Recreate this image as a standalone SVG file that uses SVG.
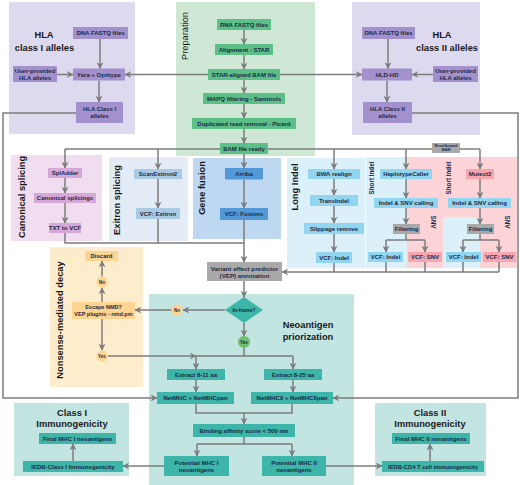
<svg xmlns="http://www.w3.org/2000/svg" width="520" height="485" viewBox="0 0 520 485">
<style>
text{font-family:"Liberation Sans",Arial,sans-serif;font-weight:bold;text-anchor:middle;dominant-baseline:central;fill:#1b2a47}
.t{font-size:6px}
.s{font-size:5.5px}
.ttl{font-size:9.3px;fill:#1a1a1a}
.c{stroke:#7c7c7c;stroke-width:1.5;fill:none}
.a{stroke:#7c7c7c;stroke-width:1.5;fill:none;marker-end:url(#ah)}
.hla{fill:#a291cc}.prep{fill:#5dbf88}.can{fill:#d5a9d7}.exi{fill:#aac9e4}.gf{fill:#5399d8}
.li{fill:#92d5f0}.pk{fill:#f7a6b0}.gr{fill:#a9a9a9}.nmd{fill:#fdd491}.neo{fill:#3db5a8}
</style>
<defs>
<marker id="ah" viewBox="0 0 10 10" refX="9" refY="5" markerWidth="7" markerHeight="7" orient="auto" markerUnits="userSpaceOnUse">
<path d="M0,0 L10,5 L0,10 L3,5 z" fill="#7c7c7c"/>
</marker>
</defs>

<g id="panels">
<rect x="9" y="2" width="126" height="132" fill="#ddd9ee"/>
<rect x="176" y="2" width="139" height="154" fill="#cfe8d6"/>
<rect x="352" y="2" width="128" height="133" fill="#ddd9ee"/>
<rect x="11" y="155" width="91" height="86" fill="#f1ddf0"/>
<rect x="109" y="157" width="79" height="84" fill="#e3ecf6"/>
<rect x="193" y="158" width="88" height="81" fill="#bed8f1"/>
<rect x="287" y="158" width="78" height="110" fill="#dcf0fa"/>
<rect x="366" y="157" width="41" height="111" fill="#dcf0fa"/>
<rect x="407" y="157" width="110" height="111" fill="#fcd3d7"/>
<rect x="443" y="217" width="37" height="51" fill="#dcf0fa"/>
<rect x="50" y="247" width="93" height="140" fill="#fdedcc"/>
<rect x="149" y="294" width="205" height="191" fill="#c3e5e2"/>
<rect x="14" y="403" width="115" height="73" fill="#c3e5e2"/>
<rect x="375" y="403" width="111" height="73" fill="#c3e5e2"/>
<text class="ttl" x="44" y="35">HLA</text>
<text class="ttl" x="44.5" y="48">class I alleles</text>
<text class="ttl" x="442" y="35">HLA</text>
<text class="ttl" x="447" y="48">class II alleles</text>
<text class="ttl" style="font-weight:normal" transform="translate(185,36) rotate(-90)">Preparation</text>
<text class="ttl" transform="translate(22,197) rotate(-90)">Canonical splicing</text>
<text class="ttl" transform="translate(117,200) rotate(-90)">Exitron splicing</text>
<text class="ttl" transform="translate(202,188) rotate(-90)">Gene fusion</text>
<text class="ttl" transform="translate(295,187) rotate(-90)">Long Indel</text>
<text class="t" style="font-size:6.3px" transform="translate(371,178) rotate(-90)">Short Indel</text>
<text class="t" style="font-size:6.3px" transform="translate(448,178) rotate(-90)">Short Indel</text>
<text class="t" style="font-size:6.3px" transform="translate(433,222) rotate(90)">SNV</text>
<text class="t" style="font-size:6.3px" transform="translate(507,222) rotate(90)">SNV</text>
<text class="ttl" transform="translate(60,320) rotate(-90)">Nonsense-mediated decay</text>
<text class="ttl" x="308" y="325">Neoantigen</text>
<text class="ttl" x="308" y="337">priorization</text>
<text class="ttl" x="72" y="413">Class I</text>
<text class="ttl" x="72" y="424">Immunogenicity</text>
<text class="ttl" x="430" y="413">Class II</text>
<text class="ttl" x="430" y="424">Immunogenicity</text>
</g>

<g id="connectors">
<path class="a" d="M100,39 V68.5"/>
<path class="a" d="M57,74.5 H73"/>
<path class="a" d="M99,80.5 V102"/>
<path class="a" d="M208,74.5 H125"/>
<path class="a" d="M280,74.5 H362"/>
<path class="a" d="M388,39 V68.5"/>
<path class="a" d="M433,74.5 H412"/>
<path class="a" d="M387,80.5 V102"/>
<path class="a" d="M76,113 H3 V398 H157"/>
<path class="a" d="M412,113 H518 V398 H333"/>
<path class="a" d="M244,30 V44"/>
<path class="a" d="M244,55 V69"/>
<path class="a" d="M244,80 V93"/>
<path class="a" d="M244,104 V118"/>
<path class="a" d="M244,129 V143"/>
<path class="c" d="M65,149 H480"/>
<path class="a" d="M65,149 V168"/>
<path class="a" d="M158,149 V169"/>
<path class="a" d="M244,154 V168"/>
<path class="a" d="M334,149 V169"/>
<path class="a" d="M406,149 V169"/>
<path class="a" d="M480,149 V169"/>
<path class="a" d="M65,178 V193"/>
<path class="a" d="M65,203 V223"/>
<path class="a" d="M158,179 V208"/>
<path class="a" d="M244,179.5 V208"/>
<path class="c" d="M65,233 V243 H244"/>
<path class="c" d="M158,219 V243"/>
<path class="a" d="M244,220 V262"/>
<path class="a" d="M334,179 V195"/>
<path class="a" d="M334,206 V223"/>
<path class="a" d="M334,234 V252"/>
<path class="a" d="M406,179 V198"/>
<path class="a" d="M406,208 V224"/>
<path class="c" d="M406,234 V240 M386,240 H425 M480,234 V240 M463,240 H499"/>
<path class="a" d="M386,240 V252"/>
<path class="a" d="M425,240 V252"/>
<path class="a" d="M463,240 V252"/>
<path class="a" d="M499,240 V252"/>
<path class="a" d="M480,179 V198"/>
<path class="a" d="M480,208 V224"/>
<path class="c" d="M334,263 V272 M386,262 V272 M425,262 V272 M463,262 V272 M499,262 V272"/>
<path class="a" d="M499,272 H282"/>
<path class="a" d="M244,281 V297"/>
<path class="a" d="M225,310 H183"/>
<path class="a" d="M171.5,310 H135"/>
<path class="a" d="M244,323 V336"/>
<path class="c" d="M244,348 V356 M196,356 H293"/>
<path class="a" d="M108,356 H196"/>
<path class="a" d="M196,356 V369"/>
<path class="a" d="M293,356 V369"/>
<path class="a" d="M196,380 V392"/>
<path class="a" d="M293,380 V392"/>
<path class="c" d="M196,404 V413 H292 V404"/>
<path class="a" d="M244,413 V424"/>
<path class="c" d="M244,437 V444 M197,444 H292"/>
<path class="a" d="M197,444 V456"/>
<path class="a" d="M292,444 V456"/>
<path class="a" d="M164,466 H123"/>
<path class="a" d="M326,466 H382"/>
<path class="a" d="M73,461 V444"/>
<path class="a" d="M430,461 V444"/>
<path class="a" d="M102,302 V288"/>
<path class="a" d="M102,276.5 V261"/>
<path class="a" d="M102,319 V350"/>
</g>

<g id="n-dna1"><rect class="hla" x="73" y="27" width="55" height="12"/><text class="t" x="100.5" y="33">DNA FASTQ files</text></g>
<g id="n-user1"><rect class="hla" x="13" y="66" width="44" height="16"/><text class="t" x="35" y="71">User-provided</text><text class="t" x="35" y="77.5">HLA alleles</text></g>
<g id="n-yara"><rect class="hla" x="73" y="68.5" width="52" height="12"/><text class="t" x="99" y="74.5">Yara + Optitype</text></g>
<g id="n-hla1"><rect class="hla" x="76" y="102" width="47" height="21"/><text class="t" x="99.5" y="109">HLA Class I</text><text class="t" x="99.5" y="116">alleles</text></g>

<g id="n-dna2"><rect class="hla" x="362" y="27" width="53" height="12"/><text class="t" x="388.5" y="33">DNA FASTQ files</text></g>
<g id="n-hldhd"><rect class="hla" x="362" y="68.5" width="50" height="12"/><text class="t" x="387" y="74.5">HLD-HD</text></g>
<g id="n-user2"><rect class="hla" x="433" y="66" width="45" height="16"/><text class="t" x="455.5" y="71">User-provided</text><text class="t" x="455.5" y="77.5">HLA alleles</text></g>
<g id="n-hla2"><rect class="hla" x="363" y="102" width="49" height="21"/><text class="t" x="387.5" y="109">HLA Class II</text><text class="t" x="387.5" y="116">alleles</text></g>

<g id="n-rna"><rect class="prep" x="217" y="19" width="54" height="11"/><text class="t" x="244" y="24.5">RNA FASTQ files</text></g>
<g id="n-align"><rect class="prep" x="215" y="44" width="58" height="11"/><text class="t" x="244" y="49.5">Alignment - STAR</text></g>
<g id="n-star"><rect class="prep" x="208" y="69" width="72" height="11"/><text class="t" x="244" y="74.5">STAR-aligned BAM file</text></g>
<g id="n-mapq"><rect class="prep" x="203" y="93" width="82" height="11"/><text class="t" x="244" y="98.5">MAPQ filtering - Samtools</text></g>
<g id="n-dup"><rect class="prep" x="192" y="118" width="104" height="11"/><text class="t" x="244" y="123.5">Duplicated read removal - Picard</text></g>
<g id="n-bam"><rect class="prep" x="220" y="143" width="48" height="11"/><text class="t" x="244" y="148.5">BAM file ready</text></g>

<g id="n-spladder"><rect class="can" x="48" y="168" width="34" height="10"/><text class="t" x="65" y="173">SplAdder</text></g>
<g id="n-cansp"><rect class="can" x="34" y="193" width="62" height="10"/><text class="t" x="65" y="198">Canonical splicings</text></g>
<g id="n-txt"><rect class="can" x="49" y="223" width="32" height="10"/><text class="t" x="65" y="228">TXT to VCF</text></g>

<g id="n-scanex"><rect class="exi" x="134" y="169" width="48" height="10"/><text class="t" x="158" y="174">ScanExitron2</text></g>
<g id="n-vcfex"><rect class="exi" x="136" y="208" width="44" height="11"/><text class="t" x="158" y="213.5">VCF: Exitron</text></g>

<g id="n-arriba"><rect class="gf" x="225" y="168" width="38" height="11.5"/><text class="t" x="244" y="173.8">Arriba</text></g>
<g id="n-vcffus"><rect class="gf" x="220" y="208" width="48" height="12"/><text class="t" x="244" y="214">VCF: Fusions</text></g>

<g id="n-bwa"><rect class="li" x="308" y="169" width="52" height="10"/><text class="t" x="334" y="174">BWA realign</text></g>
<g id="n-transindel"><rect class="li" x="310" y="195" width="48" height="11"/><text class="t" x="334" y="200.5">TransIndel</text></g>
<g id="n-slip"><rect class="li" x="304" y="223" width="60" height="11"/><text class="t" x="334" y="228.5">Slippage remove</text></g>
<g id="n-vcfli"><rect class="li" x="316" y="252" width="36" height="11"/><text class="t" x="334" y="257.5">VCF: Indel</text></g>

<g id="n-recal"><rect class="gr" x="432" y="143" width="28" height="10"/><text style="font-size:3.8px" x="446" y="146.2">Recalibrated</text><text style="font-size:3.8px" x="446" y="150.4">BAM</text></g>
<g id="n-hapc"><rect class="li" x="380" y="169" width="52" height="10"/><text class="t" x="406" y="174">HaplotypeCaller</text></g>
<g id="n-calling1"><rect class="li" x="374" y="198" width="64" height="10"/><text class="t" x="406" y="203">Indel &amp; SNV calling</text></g>
<g id="n-filt1"><rect class="gr" x="393" y="224" width="27" height="10"/><text class="t" x="406.5" y="229">Filtering</text></g>
<g id="n-vcfi1"><rect class="li" x="368" y="252" width="35" height="10"/><text class="t" x="385.5" y="257">VCF: Indel</text></g>
<g id="n-vcfs1"><rect class="pk" x="408" y="252" width="34" height="10"/><text class="t" x="425" y="257">VCF: SNV</text></g>
<g id="n-mutect"><rect class="pk" x="466" y="169" width="28" height="10"/><text class="t" x="480" y="174">Mutect2</text></g>
<g id="n-calling2"><rect class="li" x="448" y="198" width="63" height="10"/><text class="t" x="479.5" y="203">Indel &amp; SNV calling</text></g>
<g id="n-filt2"><rect class="gr" x="467" y="224" width="27" height="10"/><text class="t" x="480.5" y="229">Filtering</text></g>
<g id="n-vcfi2"><rect class="li" x="446" y="252" width="35" height="10"/><text class="t" x="463.5" y="257">VCF: Indel</text></g>
<g id="n-vcfs2"><rect class="pk" x="483" y="252" width="33" height="10"/><text class="t" x="499.5" y="257">VCF: SNV</text></g>

<g id="n-vep"><rect class="gr" x="207" y="262" width="75" height="19"/><text class="t" style="font-size:6.2px" x="244.5" y="268.5">Variant effect predictor</text><text class="t" style="font-size:6.2px" x="244.5" y="275.5">(VEP) annotation</text></g>

<g id="n-discard"><rect class="nmd" x="85" y="251" width="33" height="10"/><text class="t" x="101.5" y="256">Discard</text></g>
<g id="n-nmdno"><circle class="nmd" cx="102" cy="282" r="5.5"/><text style="font-size:4.5px" x="102" y="282">No</text></g>
<g id="n-escape"><rect class="nmd" x="72" y="302" width="63" height="17"/><text class="s" x="103.5" y="307.3">Escape NMD?</text><text class="s" x="103.5" y="314">VEP plugins - nmd.pm</text></g>
<g id="n-nmdyes"><circle class="nmd" cx="102" cy="356" r="5.5"/><text style="font-size:4.5px" x="102" y="356">Yes</text></g>

<g id="n-inframe"><polygon class="neo" points="244,297 263,310 244,323 225,310"/><text style="font-size:5px" x="244" y="310">In-frame?</text></g>
<g id="n-no"><circle class="nmd" cx="177" cy="310" r="5.5"/><text style="font-size:4.5px" x="177" y="310">No</text></g>
<g id="n-yes"><circle cx="244" cy="342" r="6" fill="#6dbf6d"/><text style="font-size:4.5px" x="244" y="342">Yes</text></g>
<g id="n-ext1"><rect class="neo" x="167" y="369" width="58" height="11"/><text class="t" x="196" y="374.5">Extract 8-11 aa</text></g>
<g id="n-ext2"><rect class="neo" x="264" y="369" width="58" height="11"/><text class="t" x="293" y="374.5">Extract 8-25 aa</text></g>
<g id="n-netmhc"><rect class="neo" x="157" y="392" width="77" height="12"/><text class="t" x="195.5" y="398">NetMHC + NetMHCpan</text></g>
<g id="n-netmhcii"><rect class="neo" x="251" y="392" width="82" height="12"/><text class="t" x="292" y="398">NetMHCII + NetMHCIIpan</text></g>
<g id="n-binding"><rect class="neo" x="193" y="424" width="102" height="13"/><text class="t" x="244" y="430.5">Binding affinity score &lt; 500 nm</text></g>
<g id="n-pot1"><rect class="neo" x="164" y="456" width="65" height="20"/><text class="t" x="196.5" y="462.5">Potential MHC I</text><text class="t" x="196.5" y="469.5">neoantigens</text></g>
<g id="n-pot2"><rect class="neo" x="262" y="456" width="64" height="20"/><text class="t" x="294" y="462.5">Potential MHC II</text><text class="t" x="294" y="469.5">neoantigens</text></g>

<g id="n-final1"><rect class="neo" x="39" y="433" width="77" height="11"/><text class="t" x="77.5" y="438.5">Final MHC I neoantigens</text></g>
<g id="n-iedb1"><rect class="neo" x="23" y="461" width="100" height="11"/><text class="t" x="73" y="466.5">IEDB-Class I Immunogenicity</text></g>
<g id="n-final2"><rect class="neo" x="392" y="433" width="78" height="11"/><text class="t" x="431" y="438.5">Final MHC II neoantigens</text></g>
<g id="n-iedb2"><rect class="neo" x="382" y="461" width="102" height="11"/><text class="t" style="font-size:5.8px" x="433" y="466.5">IEDB-CD4 T cell immunogenicity</text></g>
</svg>
